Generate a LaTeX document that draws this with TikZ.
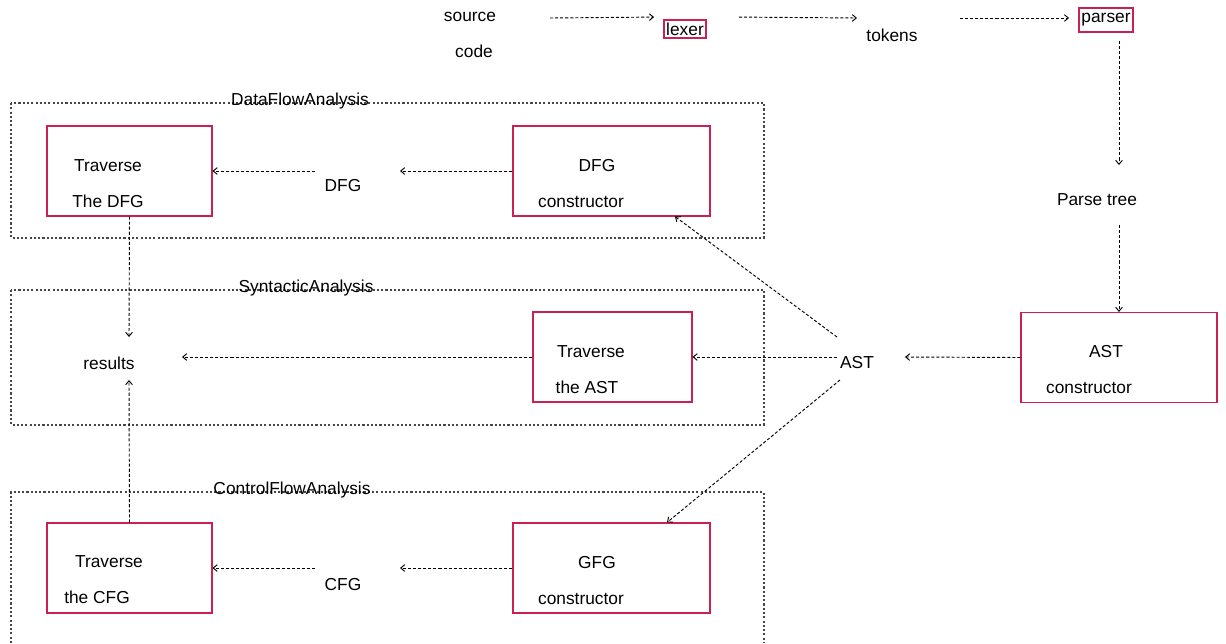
\documentclass[tikz,border=0pt]{standalone}
\usepackage{fontspec}
\setmainfont{Liberation Sans}
\usepackage{xcolor}
\usetikzlibrary{arrows.meta}

\definecolor{boxred}{RGB}{204,32,82}
\definecolor{groupgray}{RGB}{70,70,70}

\begin{document}
\begin{tikzpicture} [>={Straight Barb[length=3pt,width=5pt]}, x=0.75pt, y=-0.75pt, font=\fontsize{13}{27}\selectfont]
            % Set styles
            \tikzset{
                procBox/.style={
                        draw=boxred,
                        line width=0.8pt,
                        rectangle,
                        inner sep=0pt,
                        minimum height=67.5pt
                    }
            }
            \tikzset{
                tokenBox/.style={
                        draw=boxred,
                        line width=1.4pt,
                        rectangle,
                        inner sep=0pt
                    }
            }
            \tikzset{
                plainText/.style={
                        inner sep=0pt,
                        align=center
                    }
            }
            \tikzset{
                groupBox/.style={
                        draw=groupgray,
                        line width=0.8pt,
                        dash pattern=on 1.6pt off 1.6pt
                    }
            }
            \tikzset{
                flow/.style={
                        line width=0.7pt,
                        dash pattern=on 2.3pt off 1.5pt,
                        ->
                    }
            }
            \useasboundingbox (0,0) rectangle (1226,643);
            % Groups
            \draw[groupBox] (11,103) rectangle (764,238);
            \draw[groupBox] (11,290) rectangle (764,425);
            \draw[groupBox] (11,643) |- (764,492) -- (764,643);
            \node[plainText](dfaLabel) at (300,101.5){DataFlowAnalysis};
            \node[plainText](saLabel) at (306,288.5){SyntacticAnalysis};
            \node[plainText](cfaLabel) at (292,490.5){ControlFlowAnalysis};
            % Placing nodes
            \node[plainText](src) at (470,35){source\\\hspace*{6pt}code};
            \node[tokenBox, minimum width=31.5pt, minimum height=13.5pt](lexer) at (685,29){lexer};
            \node[plainText](tokens) at (892,35){tokens};
            \node[tokenBox, minimum width=40.5pt, minimum height=18pt](parser) at (1106,20){parser};
            \node[plainText](parsetree) at (1097,200){Parse tree};
            \node[procBox, minimum width=147pt](astc) at (1119,357.5){};
            \node[plainText](astcText) at (1089,370){\hspace*{25.5pt}AST\\constructor};
            \node[plainText](ast) at (857,363){AST};
            \node[procBox, minimum width=147.75pt](dfgc) at (611.5,171){};
            \node[plainText](dfgcText) at (581,184){\hspace*{24pt}DFG\\constructor};
            \node[plainText](dfg) at (343,186){DFG};
            \node[procBox, minimum width=123.75pt](tdfg) at (129.5,171){};
            \node[plainText](tdfgText) at (108,184){Traverse\\The DFG};
            \node[procBox, minimum width=119.25pt](tast) at (612.5,357){};
            \node[plainText](tastText) at (591,370){Traverse\\the AST\hspace*{6pt}};
            \node[plainText](results) at (109,363){results};
            \node[procBox, minimum width=147.75pt](gfgc) at (611.5,568){};
            \node[plainText](gfgcText) at (581,581){\hspace*{24pt}GFG\\constructor};
            \node[plainText](cfg) at (343,585){CFG};
            \node[procBox, minimum width=123.75pt](tcfg) at (129.5,568){};
            \node[plainText](tcfgText) at (109,580){Traverse\\the CFG\hspace*{18pt}};
            % Draw arrows
            \draw[flow]([shift={(80,-17)}]src.center) -- ([shift={(-9,-2)}]lexer.north west);
            \draw[flow]([shift={(32,-2)}]lexer.north east) -- ([shift={(-35,-17)}]tokens.center);
            \draw[flow]([shift={(68,-17)}]tokens.center) -- ([shift={(-9,-2)}]parser.west);
            \draw[flow]([shift={(13,8)}]parser.south) -- ([shift={(22,-35)}]parsetree.center);
            \draw[flow]([shift={(22,25)}]parsetree.center) -- (astc.north);
            \draw[flow](astc.west) -- ([shift={(48,-6)}]ast.center);
            \draw[flow]([shift={(-20,-26)}]ast.center) -- ([shift={(63.5,0)}]dfgc.south);
            \draw[flow]([shift={(-20,-6)}]ast.center) -- (tast.east);
            \draw[flow]([shift={(-17,17)}]ast.center) -- ([shift={(55.5,0)}]gfgc.north);
            \draw[flow](dfgc.west) -- ([shift={(57,-15)}]dfg.center);
            \draw[flow]([shift={(-28,-15)}]dfg.center) -- (tdfg.east);
            \draw[flow](tdfg.south) -- ([shift={(20,-26)}]results.center);
            \draw[flow](tast.west) -- ([shift={(73,-6)}]results.center);
            \draw[flow](tcfg.north) -- ([shift={(20,17)}]results.center);
            \draw[flow](gfgc.west) -- ([shift={(57,-17)}]cfg.center);
            \draw[flow]([shift={(-28,-17)}]cfg.center) -- (tcfg.east);
        \end{tikzpicture}
\end{document}
